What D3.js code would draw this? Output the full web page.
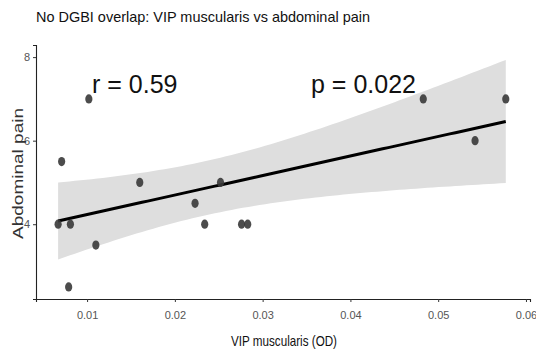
<!DOCTYPE html>
<html>
<head>
<meta charset="utf-8">
<script src="https://cdn.jsdelivr.net/npm/d3@7"></script>
<style>
  body { margin: 0; background: #fff; }
  svg { display: block; font-family: "Liberation Sans", Arial, sans-serif; }
</style>
</head>
<body>
<div id="chart"></div>
<script>
// VIP muscularis (OD) vs abdominal pain score
const vipOD = [0.0067, 0.0071, 0.0102, 0.0081, 0.0079, 0.0110, 0.0160, 0.0223,
               0.0234, 0.0252, 0.0276, 0.0283, 0.0483, 0.0542, 0.0577];
const pain  = [4, 5.5, 7, 4, 2.5, 3.5, 5, 4.5, 4, 5, 4, 4, 7, 6, 7];
const xTicks = [0.01, 0.02, 0.03, 0.04, 0.05, 0.06];
const yTicks = [4, 6, 8];
const statLabels = ["r = 0.59", "p = 0.022"];

const width = 536, height = 354;
const points = vipOD.map((x, i) => ({ x: x, y: pain[i] }));

const svg = d3.select('#chart').append('svg')
  .attr('width', width)
  .attr('height', height);

const xScale = d3.scaleLinear().domain([0.00418, 0.06046]).range([36, 530]);
const yScale = d3.scaleLinear().domain([2.21, 8.29]).range([299, 45]);

// linear fit + 95% confidence band (same as geom_smooth(method = "lm"))
const n = points.length;
const mx = d3.mean(vipOD), my = d3.mean(pain);
const sxx = d3.sum(vipOD, x => (x - mx) * (x - mx));
const sxy = d3.sum(points, d => (d.x - mx) * (d.y - my));
const slope = sxy / sxx, icpt = my - slope * mx;
const sse = d3.sum(points, d => Math.pow(d.y - (icpt + slope * d.x), 2));
const s = Math.sqrt(sse / (n - 2));
const tq = 2.160; // t(0.975, 13)
const xMin = d3.min(vipOD), xMax = d3.max(vipOD);
const fit = d3.range(0, 81).map(i => {
  const x = xMin + (xMax - xMin) * i / 80;
  const yh = icpt + slope * x;
  const hw = tq * s * Math.sqrt(1 / n + (x - mx) * (x - mx) / sxx);
  return { x: x, y: yh, lo: yh - hw, hi: yh + hw };
});

svg.append('path')
  .datum(fit)
  .attr('fill', '#dedede')
  .attr('d', d3.area().x(d => xScale(d.x)).y0(d => yScale(d.lo)).y1(d => yScale(d.hi)));

svg.append('path')
  .datum(fit)
  .attr('fill', 'none')
  .attr('stroke', '#000')
  .attr('stroke-width', 3)
  .attr('d', d3.line().x(d => xScale(d.x)).y(d => yScale(d.y)));

svg.selectAll('.pt')
  .data(points)
  .enter()
  .append('ellipse')
  .attr('class', 'pt')
  .attr('cx', d => xScale(d.x))
  .attr('cy', d => yScale(d.y))
  .attr('rx', 3.6)
  .attr('ry', 4.6)
  .attr('fill', '#383838')
  .attr('fill-opacity', 0.9);

// axes
const xAxis = svg.append('g')
  .attr('transform', `translate(0,${yScale.range()[0]})`)
  .call(d3.axisBottom(xScale).tickValues(xTicks).tickSize(3).tickPadding(9).tickFormat(d3.format('.2f')));
const yAxis = svg.append('g')
  .attr('transform', `translate(${xScale.range()[0]},0)`)
  .call(d3.axisLeft(yScale).tickValues(yTicks).tickSize(3).tickPadding(3).tickFormat(d3.format('d')));

[xAxis, yAxis].forEach(g => {
  g.select('.domain').attr('stroke', '#222').attr('stroke-width', 1.1);
  g.selectAll('.tick line').attr('stroke', '#333');
  g.selectAll('.tick text')
    .attr('fill', '#555')
    .attr('font-size', 11)
    .attr('font-family', '"Liberation Sans", Arial, sans-serif');
});

// titles
svg.append('text')
  .attr('x', 36)
  .attr('y', 22)
  .attr('font-size', 15)
  .attr('fill', '#111')
  .attr('textLength', 334)
  .attr('lengthAdjust', 'spacingAndGlyphs')
  .text('No DGBI overlap: VIP muscularis vs abdominal pain');

svg.append('text')
  .attr('x', 231)
  .attr('y', 346)
  .attr('font-size', 15)
  .attr('fill', '#111')
  .attr('textLength', 106)
  .attr('lengthAdjust', 'spacingAndGlyphs')
  .text('VIP muscularis (OD)');

svg.append('text')
  .attr('transform', 'translate(23,239) rotate(-90)')
  .attr('font-size', 15)
  .attr('fill', '#333')
  .attr('textLength', 131)
  .attr('lengthAdjust', 'spacingAndGlyphs')
  .text('Abdominal pain');

// correlation annotations
svg.selectAll('.stat')
  .data(statLabels)
  .enter()
  .append('text')
  .attr('class', 'stat')
  .attr('x', (d, i) => i === 0 ? 92 : 311)
  .attr('y', 93)
  .attr('font-size', 25)
  .attr('fill', '#111')
  .text(d => d);
</script>
</body>
</html>
